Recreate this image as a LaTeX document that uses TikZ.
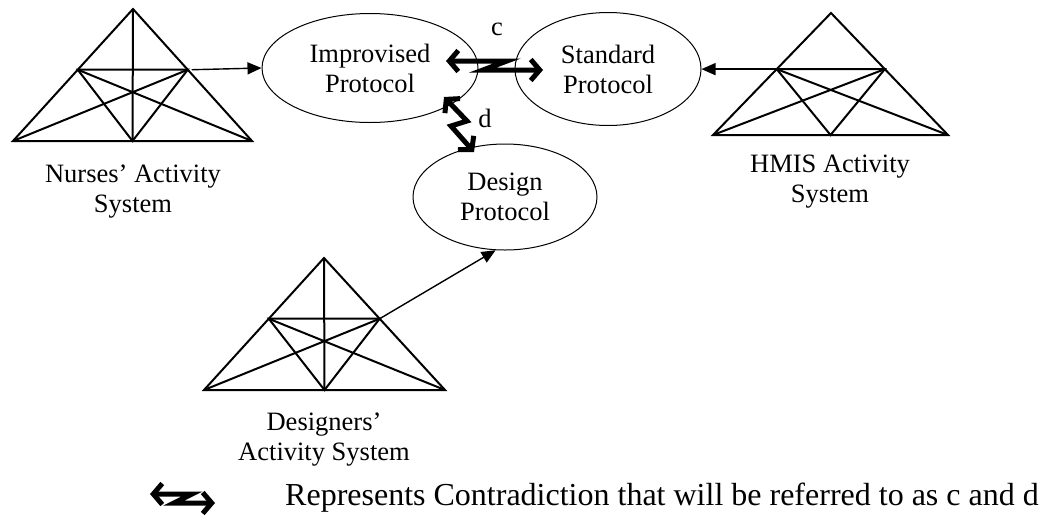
\documentclass[tikz,border=0pt]{standalone}
\usepackage{fontspec}
\setmainfont{Liberation Serif}
\usetikzlibrary{positioning,arrows.meta,shapes.geometric,calc}

\tikzset{
  tri/.style={line width=2pt},
  proto/.style={draw, ellipse, line width=1pt, inner sep=0pt, align=center, font=\fontsize{26.5}{30}\selectfont},
  lbl/.style={align=center, font=\fontsize{26.5}{30}\selectfont},
  conn/.style={line width=1.4pt, -{Triangle[length=14pt,width=12pt]}},
  contra/.style={line width=5pt, {Straight Barb[length=9pt,width=21pt]}-{Straight Barb[length=9pt,width=21pt]}}
}

% activity triangle: name, apex, base left, base right
\newcommand{\actsys}[4]{%
  \coordinate (#1-top) at #2;
  \coordinate (#1-bl) at #3;
  \coordinate (#1-br) at #4;
  \coordinate (#1-bm) at ($(#1-bl)!0.5!(#1-br)$);
  \coordinate (#1-ml) at ($(#1-bl)!0.54!(#1-top)$);
  \coordinate (#1-mr) at ($(#1-br)!0.54!(#1-top)$);
  \draw[tri] (#1-top) -- (#1-bl) -- (#1-br) -- cycle;
  \draw[tri] (#1-ml) -- (#1-mr) -- (#1-bm) -- cycle;
  \draw[tri] (#1-bl) -- (#1-mr) (#1-br) -- (#1-ml);
}

\begin{document}
\begin{tikzpicture}[x=1pt, y=-1pt]
\useasboundingbox (0,0) rectangle (1046,515);

\actsys{nur}{(133,9)}{(13,141)}{(252,141)}
\draw[tri] (nur-top) -- (nur-bm);
\actsys{hmis}{(831,13)}{(713,135)}{(948,135)}
\actsys{des}{(324,258)}{(204,390)}{(445,390)}
\draw[tri] (des-top) -- (des-bm);

\node[lbl] (nurlbl) at (133,192) {Nurses’ Activity\\System};
\node[lbl] (hmislbl) at (830,182) {HMIS Activity\\System};
\node[lbl] (deslbl) at (324,440) {Designers’\\Activity System};

\node[proto, minimum width=216pt, minimum height=109pt] (imp) at (370,68) {Improvised\\Protocol};
\node[proto, minimum width=186pt, minimum height=113pt] (std) at (608,69) {Standard\\Protocol};
\node[proto, minimum width=184pt, minimum height=106pt] (dsg) at (505,197) {Design\\Protocol};

\draw[conn] ([xshift=4pt]nur-mr) -- (imp.west);
\draw[conn] (hmis-ml) -- (hmis-ml -| std.east);
\draw[conn] (des-mr) -- (dsg.260);

\coordinate (c1) at (446,61);
\coordinate (c2) at (507,61);
\coordinate (c3) at (483,70);
\coordinate (c4) at (543,70);
\draw[contra] (c1) -- (c2) -- (c3) -- (c4);
\node[lbl] (clbl) at (497,29) {c};

\coordinate (d1) at (444,97);
\coordinate (d2) at (467,121);
\coordinate (d3) at (451,126);
\coordinate (d4) at (474,152);
\draw[contra] (d1) -- (d2) -- (d3) -- (d4);
\node[lbl] (dlbl) at (485,118) {d};

\coordinate (l1) at (150,494);
\coordinate (l2) at (192,494);
\coordinate (l3) at (174,503);
\coordinate (l4) at (215,503);
\draw[contra] (l1) -- (l2) -- (l3) -- (l4);
\node[anchor=base west, font=\fontsize{32}{34}\selectfont, inner sep=0pt] (legend) at (285,505)
  {Represents Contradiction that will be referred to as c and d};
\end{tikzpicture}
\end{document}
